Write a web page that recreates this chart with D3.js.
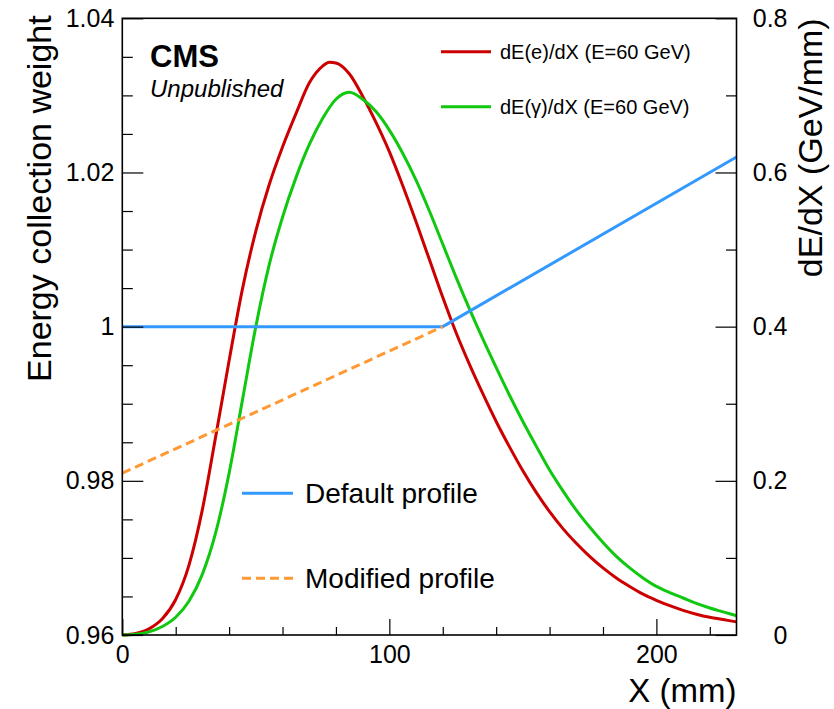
<!DOCTYPE html>
<html>
<head>
<meta charset="utf-8">
<script src="https://cdn.jsdelivr.net/npm/d3@7"></script>
<style>
  html, body { margin: 0; padding: 0; background: #fff; }
  svg { display: block; font-family: "Liberation Sans", Arial, Helvetica, sans-serif; }
</style>
</head>
<body>
<svg id="chart" width="834" height="709"></svg>
<script>
// ---------------- data ----------------
// dE(e)/dX, E = 60 GeV  (X in mm, value in GeV/mm)
const electronX = [0, 5, 10, 15, 20, 25, 30, 35, 40, 45, 50, 55, 60, 65, 70, 75, 77.5, 80, 85, 90, 95, 100, 105, 110, 115, 120, 125, 130, 135, 140, 145, 150, 155, 160, 165, 170, 175, 180, 185, 190, 195, 200, 205, 210, 215, 220, 225, 230];
const electronDE = [0, 0.002, 0.008, 0.021, 0.046, 0.091, 0.163, 0.258, 0.356, 0.449, 0.524, 0.584, 0.633, 0.676, 0.716, 0.738, 0.743, 0.742, 0.728, 0.699, 0.665, 0.627, 0.583, 0.536, 0.487, 0.438, 0.392, 0.351, 0.313, 0.277, 0.244, 0.213, 0.185, 0.160, 0.138, 0.119, 0.102, 0.087, 0.074, 0.063, 0.053, 0.045, 0.038, 0.032, 0.027, 0.023, 0.020, 0.017];
// dE(gamma)/dX, E = 60 GeV
const photonX = [0, 5, 10, 15, 20, 25, 30, 35, 40, 45, 50, 55, 60, 65, 70, 75, 80, 85, 90, 95, 100, 105, 110, 115, 120, 125, 130, 135, 140, 145, 150, 155, 160, 165, 170, 175, 180, 185, 190, 195, 200, 205, 210, 215, 220, 225, 230];
const photonDE = [0, 0.001, 0.004, 0.011, 0.023, 0.044, 0.079, 0.133, 0.210, 0.305, 0.400, 0.480, 0.542, 0.593, 0.636, 0.670, 0.695, 0.704, 0.695, 0.679, 0.655, 0.625, 0.590, 0.550, 0.507, 0.464, 0.423, 0.384, 0.347, 0.311, 0.277, 0.245, 0.214, 0.187, 0.162, 0.140, 0.120, 0.102, 0.087, 0.074, 0.063, 0.055, 0.048, 0.041, 0.035, 0.030, 0.025];
// energy collection weight profiles
const defaultX = [0, 120, 230];
const defaultW = [1.0, 1.0, 1.022];
const modifiedX = [0, 120];
const modifiedW = [0.981, 1.0];

// axes / ticks
const xDomain = [0, 230];
const xMajorTicks = [0, 100, 200];
const xMajorLabels = ["0", "100", "200"];
const xMinorTicks = [20, 40, 60, 80, 120, 140, 160, 180, 220];
const wDomain = [0.96, 1.04];
const wMajorTicks = [0.96, 0.98, 1.0, 1.02, 1.04];
const wMajorLabels = ["0.96", "0.98", "1", "1.02", "1.04"];
const wMinorTicks = [0.965, 0.97, 0.975, 0.985, 0.99, 0.995, 1.005, 1.01, 1.015, 1.025, 1.03, 1.035];
const dDomain = [0, 0.8];
const dMajorTicks = [0, 0.2, 0.4, 0.6, 0.8];
const dMajorLabels = ["0", "0.2", "0.4", "0.6", "0.8"];
const dMinorTicks = [0.1, 0.3, 0.5, 0.7];

const legendTop = ["dE(e)/dX (E=60 GeV)", "dE(\u03b3)/dX (E=60 GeV)"];
const legendBottom = ["Default profile", "Modified profile"];

const colors = { electron: "#cc0000", photon: "#11c811", def: "#3399ff", mod: "#ff9933" };

// ---------------- layout ----------------
const L = 122.3, R = 736.5, T = 18.3, B = 635;
const svg = d3.select("#chart");

const x = d3.scaleLinear().domain(xDomain).range([L, R]);
const yW = d3.scaleLinear().domain(wDomain).range([B, T]);
const yD = d3.scaleLinear().domain(dDomain).range([B, T]);

const tickFont = 25;

// curves
const lineD = d3.line().x(d => x(d[0])).y(d => yD(d[1])).curve(d3.curveMonotoneX);
const lineW = d3.line().x(d => x(d[0])).y(d => yW(d[1]));

const plot = svg.append("g");
plot.append("path").datum(electronX.map((v, i) => [v, electronDE[i]]))
  .attr("d", lineD).attr("fill", "none").attr("stroke", colors.electron).attr("stroke-width", 3);
plot.append("path").datum(photonX.map((v, i) => [v, photonDE[i]]))
  .attr("d", lineD).attr("fill", "none").attr("stroke", colors.photon).attr("stroke-width", 3);
plot.append("path").datum(defaultX.map((v, i) => [v, defaultW[i]]))
  .attr("d", lineW).attr("fill", "none").attr("stroke", colors.def).attr("stroke-width", 3);
plot.append("path").datum(modifiedX.map((v, i) => [v, modifiedW[i]]))
  .attr("d", lineW).attr("fill", "none").attr("stroke", colors.mod).attr("stroke-width", 3)
  .attr("stroke-dasharray", "9,5");

// frame
svg.append("rect").attr("x", L).attr("y", T).attr("width", R - L).attr("height", B - T)
  .attr("fill", "none").attr("stroke", "#000").attr("stroke-width", 1.6);

function styleAxis(g) {
  g.select(".domain").remove();
  g.selectAll(".tick line").attr("stroke", "#000").attr("stroke-width", 1.2);
  g.selectAll("text").attr("font-size", tickFont).attr("fill", "#000")
    .attr("font-family", "'Liberation Sans', Arial, Helvetica, sans-serif");
}

// bottom axis
svg.append("g").attr("transform", `translate(0,${B})`)
  .call(d3.axisBottom(x).tickValues(xMinorTicks).tickSizeInner(-8).tickSizeOuter(0).tickFormat(""))
  .call(styleAxis);
svg.append("g").attr("transform", `translate(0,${B})`)
  .call(d3.axisBottom(x).tickValues(xMajorTicks).tickSizeInner(-16).tickSizeOuter(0).tickPadding(10)
    .tickFormat((d, i) => xMajorLabels[i]))
  .call(styleAxis);

// left axis
svg.append("g").attr("transform", `translate(${L},0)`)
  .call(d3.axisLeft(yW).tickValues(wMinorTicks).tickSizeInner(-10.5).tickSizeOuter(0).tickFormat(""))
  .call(styleAxis);
svg.append("g").attr("transform", `translate(${L},0)`)
  .call(d3.axisLeft(yW).tickValues(wMajorTicks).tickSizeInner(-21).tickSizeOuter(0).tickPadding(8)
    .tickFormat((d, i) => wMajorLabels[i]))
  .call(styleAxis);

// right axis
svg.append("g").attr("transform", `translate(${R},0)`)
  .call(d3.axisRight(yD).tickValues(dMinorTicks).tickSizeInner(-10.5).tickSizeOuter(0).tickFormat(""))
  .call(styleAxis);
const rightMajor = svg.append("g").attr("transform", `translate(${R},0)`)
  .call(d3.axisRight(yD).tickValues(dMajorTicks).tickSizeInner(-21).tickSizeOuter(0)
    .tickFormat((d, i) => dMajorLabels[i]))
  .call(styleAxis);
rightMajor.selectAll("text").attr("text-anchor", "end").attr("x", 51);

// axis titles
const titleFont = 34;
svg.append("text").attr("transform", `translate(51,${T - 3}) rotate(-90)`)
  .attr("text-anchor", "end").attr("font-size", titleFont).text("Energy collection weight");
svg.append("text").attr("transform", `translate(822,${T}) rotate(-90)`)
  .attr("text-anchor", "end").attr("font-size", titleFont).text("dE/dX (GeV/mm)");
svg.append("text").attr("x", R).attr("y", 702).attr("text-anchor", "end")
  .attr("font-size", 33).text("X (mm)");

// CMS label
svg.append("text").attr("x", 150).attr("y", 67).attr("font-size", 31).attr("font-weight", "bold").text("CMS");
svg.append("text").attr("x", 150).attr("y", 97).attr("font-size", 24).attr("font-style", "italic").text("Unpublished");

// top-right legend
const legTop = [colors.electron, colors.photon];
const legTopY = [51.7, 106.7];
legendTop.forEach((t, i) => {
  svg.append("line").attr("x1", 441).attr("x2", 491).attr("y1", legTopY[i]).attr("y2", legTopY[i])
    .attr("stroke", legTop[i]).attr("stroke-width", 3);
  svg.append("text").attr("x", 500).attr("y", legTopY[i] + 7).attr("font-size", 20).text(t);
});

// bottom-left legend
const legBotY = [493.3, 578.3];
legendBottom.forEach((t, i) => {
  svg.append("line").attr("x1", 242).attr("x2", 293).attr("y1", legBotY[i]).attr("y2", legBotY[i])
    .attr("stroke", i === 0 ? colors.def : colors.mod).attr("stroke-width", 3)
    .attr("stroke-dasharray", i === 0 ? null : "9,5");
  svg.append("text").attr("x", 305).attr("y", legBotY[i] + 10).attr("font-size", 28).text(t);
});
</script>
</body>
</html>
